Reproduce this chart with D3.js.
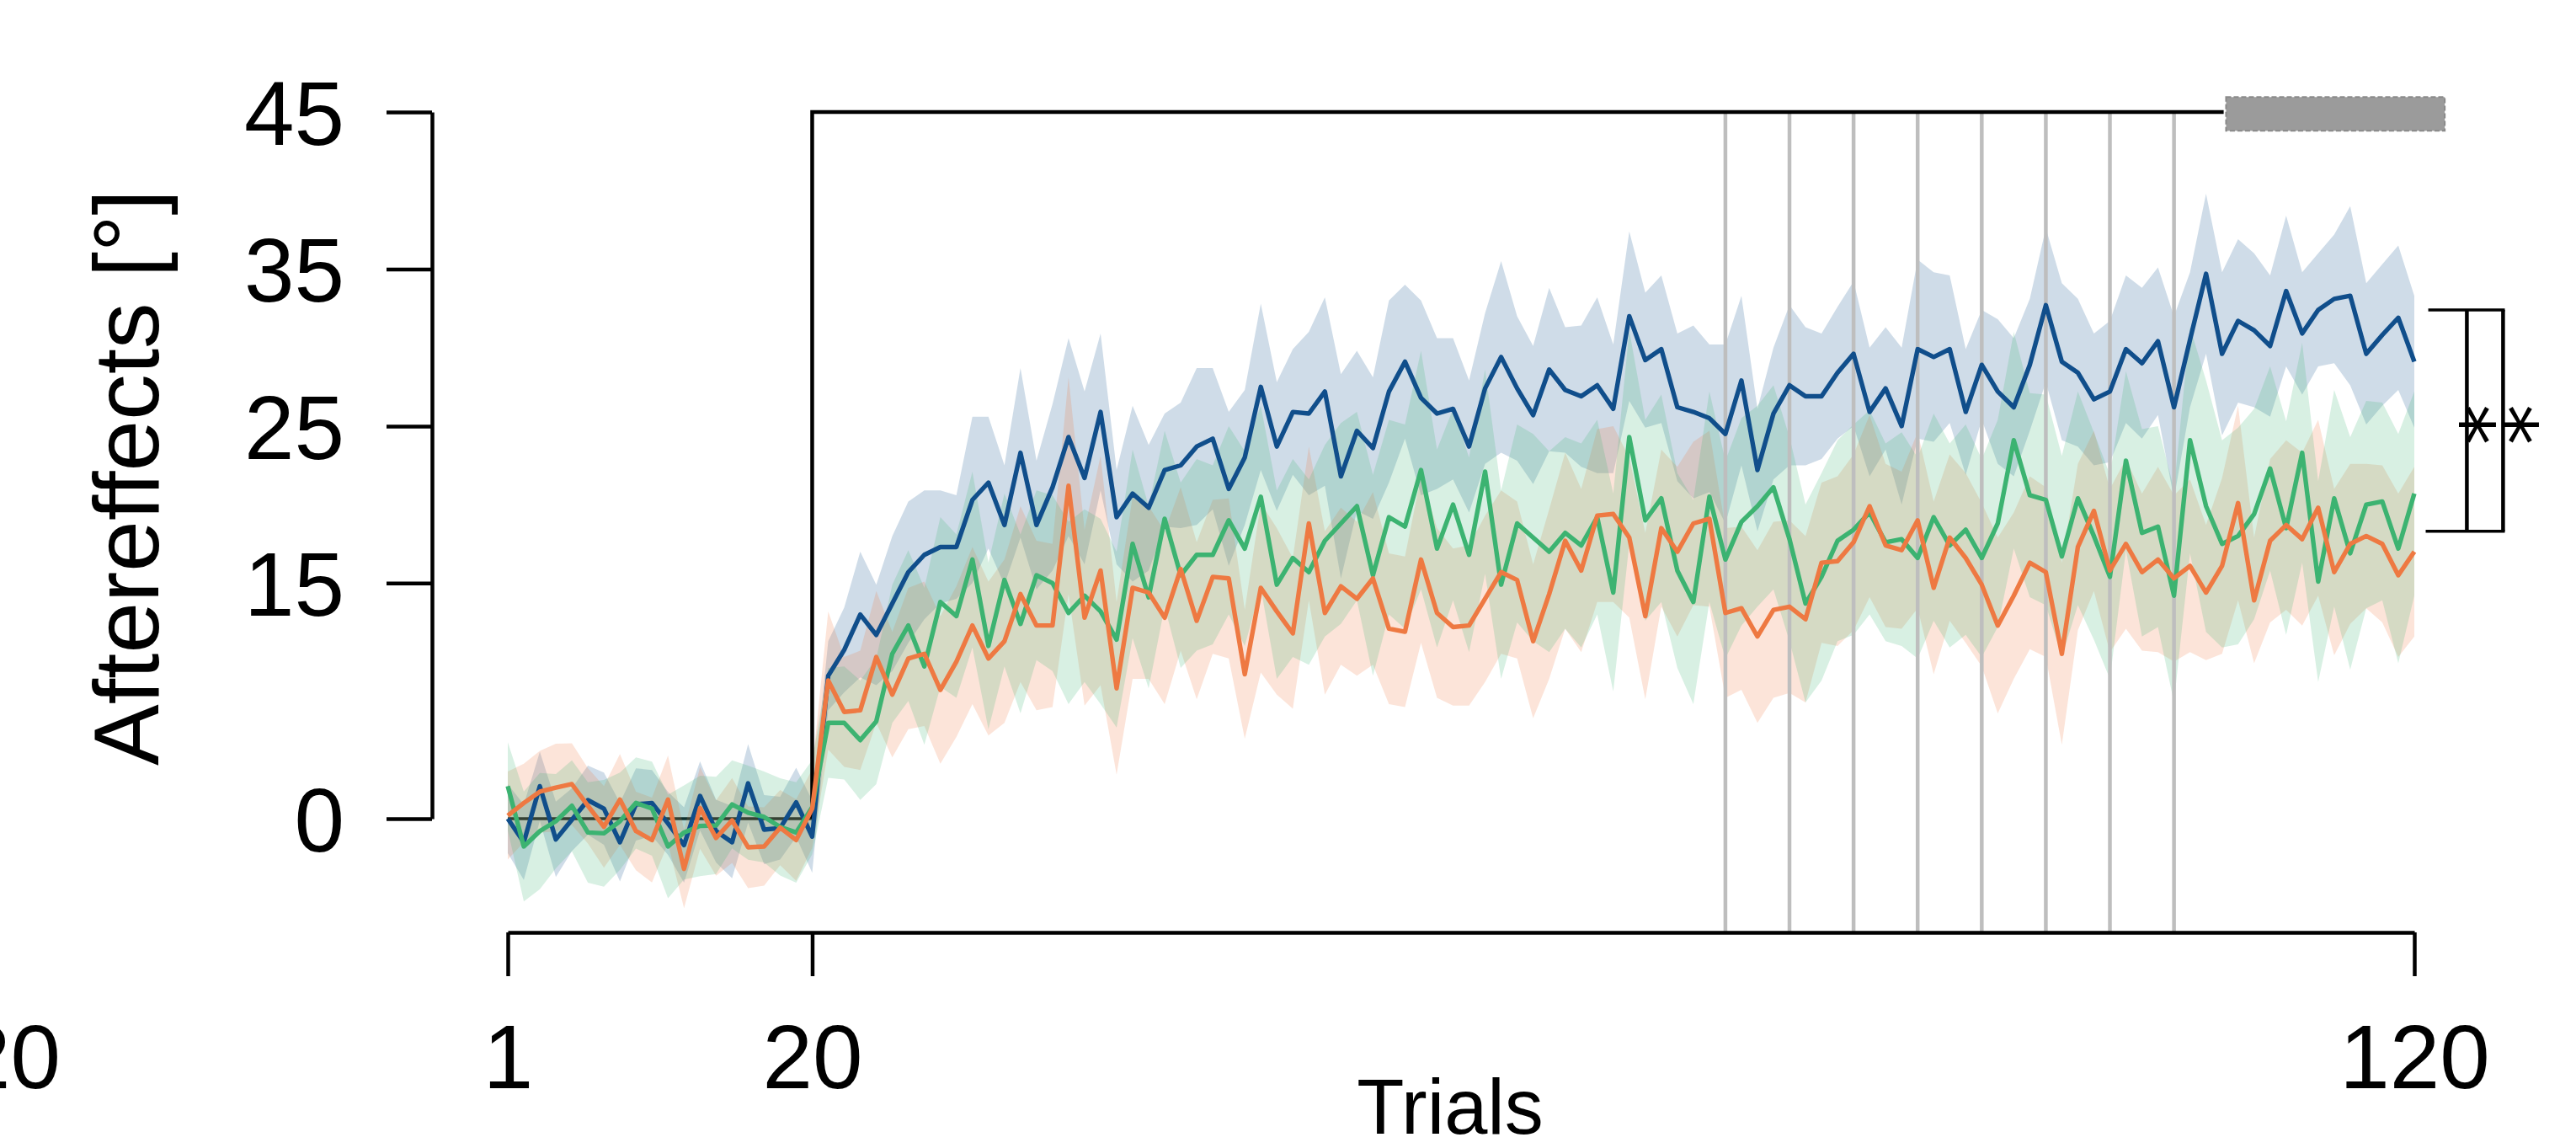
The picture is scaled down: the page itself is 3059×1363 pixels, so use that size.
<!DOCTYPE html>
<html><head><meta charset="utf-8">
<script src="https://cdn.jsdelivr.net/npm/d3@7"></script>
<style>html,body{margin:0;padding:0;background:#fff;overflow:hidden;} svg{display:block;}</style>
</head><body>
<svg id="chart" width="3059" height="1363"></svg>
<script>
// ---------- data ----------
const trials = d3.range(1, 121);

const blueMean = [
 0, -1.5, 2.07, -1.32, -0.07, 1.18, 0.64, -1.5, 0.91, 1.0, -0.3, -1.68, 1.45, -0.79, -1.5, 2.25, -0.7, -0.6, 1.04, -1.14,
 9.1, 10.75, 13.0, 11.7, 13.7, 15.7, 16.8, 17.3, 17.3, 20.3, 21.4, 18.7, 23.3, 18.7, 21.1, 24.3, 21.7, 25.9, 19.2, 20.7,
 19.8, 22.2, 22.5, 23.7, 24.2, 21.0, 23.0, 27.5, 23.7, 25.9, 25.8, 27.2, 21.8, 24.7, 23.6, 27.2, 29.1, 26.8, 25.8, 26.1,
 23.7, 27.4, 29.4, 27.4, 25.7, 28.6, 27.3, 26.9, 27.6, 26.1, 32.0, 29.2, 29.9, 26.2, 25.9, 25.5, 24.5, 27.9, 22.2, 25.8,
 27.6, 26.9, 26.9, 28.4, 29.6, 25.9, 27.4, 25.0, 29.9, 29.4, 29.9, 25.9, 28.9, 27.2, 26.2, 28.9, 32.7, 29.1, 28.4, 26.7,
 27.2, 29.9, 29.0, 30.4, 26.2, 30.5, 34.7, 29.6, 31.7, 31.1, 30.1, 33.6, 30.9, 32.4, 33.1, 33.3, 29.6, 30.8, 31.9, 29.1
];
const blueSE = [
 2.2, 2.4, 2.2, 2.4, 2.0, 2.2, 2.3, 2.5, 2.3, 2.1, 2.0, 2.4, 2.2, 2.0, 2.3, 2.5, 2.2, 2.0, 2.2, 2.3,
 2.2, 2.7, 4.0, 3.2, 4.3, 4.5, 4.1, 3.6, 3.3, 5.3, 4.2, 3.8, 5.4, 4.1, 5.3, 6.3, 5.5, 5.0, 3.0, 5.6,
 4.0, 3.6, 4.0, 5.0, 4.5, 4.9, 4.3, 5.3, 4.1, 4.0, 5.2, 6.0, 6.5, 5.1, 4.5, 5.8, 4.9, 6.2, 4.8, 4.5,
 4.2, 4.8, 6.1, 4.6, 4.4, 5.2, 4.0, 4.5, 5.6, 4.1, 5.4, 4.3, 4.7, 4.7, 5.5, 4.7, 5.7, 5.4, 3.9, 4.2,
 5.1, 4.4, 4.0, 4.2, 4.6, 4.1, 3.9, 5.0, 5.7, 5.4, 4.7, 4.0, 3.5, 4.6, 4.4, 4.2, 4.9, 5.0, 4.7, 4.2,
 4.5, 4.7, 4.8, 4.7, 5.8, 4.3, 5.1, 5.2, 5.2, 4.9, 4.5, 4.8, 3.9, 3.6, 4.1, 5.7, 4.5, 4.5, 4.6, 4.2
];

const orangeMean = [
 0.2, 1.0, 1.72, 1.98, 2.2, 0.82, -0.52, 1.22, -0.79, -1.36, 1.22, -3.2, 0.68, -1.23, -0.11, -1.82, -1.77, -0.57, -1.36, 0.64,
 8.8, 6.8, 6.9, 10.3, 7.9, 10.2, 10.5, 8.2, 10.0, 12.3, 10.2, 11.3, 14.3, 12.3, 12.3, 21.2, 12.8, 15.8, 8.3, 14.7,
 14.4, 12.8, 15.9, 12.6, 15.4, 15.3, 9.2, 14.7, 13.2, 11.8, 18.8, 13.1, 14.8, 14.0, 15.3, 12.1, 11.9, 16.5, 13.1, 12.2,
 12.3, 14.0, 15.7, 15.2, 11.3, 14.3, 17.7, 15.8, 19.3, 19.4, 17.9, 12.9, 18.5, 17.0, 18.8, 19.1, 13.1, 13.4, 11.6, 13.3,
 13.5, 12.7, 16.3, 16.4, 17.6, 19.9, 17.4, 17.1, 19.0, 14.7, 17.9, 16.6, 14.9, 12.3, 14.2, 16.3, 15.7, 10.5, 17.3, 19.6,
 15.8, 17.5, 15.7, 16.5, 15.3, 16.1, 14.4, 16.1, 20.1, 13.9, 17.7, 18.7, 17.8, 19.8, 15.7, 17.5, 18.0, 17.5, 15.5, 17.0
];
const orangeSE = [
 2.8, 2.5, 2.6, 2.8, 2.6, 2.4, 2.6, 2.9, 2.5, 2.7, 2.8, 2.5, 2.6, 2.4, 2.7, 2.6, 2.5, 2.4, 2.6, 2.5,
 4.4, 3.5, 3.8, 4.2, 4.0, 4.5, 4.6, 4.7, 4.8, 5.0, 4.9, 5.2, 5.6, 5.4, 5.2, 6.9, 5.6, 7.3, 5.5, 5.8,
 5.5, 5.5, 5.2, 5.0, 4.9, 5.1, 4.1, 5.4, 5.3, 4.8, 4.9, 5.2, 5.0, 4.9, 5.5, 4.8, 4.8, 5.3, 5.4, 5.0,
 5.1, 5.3, 5.2, 5.0, 4.9, 5.4, 5.6, 5.2, 5.5, 5.6, 5.1, 5.3, 5.0, 5.4, 5.2, 5.6, 5.4, 5.2, 5.5, 5.6,
 5.5, 5.3, 5.1, 5.4, 5.6, 5.8, 5.2, 5.0, 5.6, 5.5, 5.3, 5.4, 5.2, 5.6, 5.3, 5.5, 5.4, 5.8, 5.3, 5.1,
 5.2, 5.4, 5.0, 5.9, 5.3, 5.5, 4.3, 5.6, 6.2, 4.0, 5.2, 5.4, 5.5, 5.6, 5.3, 5.1, 4.6, 5.0, 5.2, 5.4
];

const greenMean = [
 2.07, -1.77, -0.79, -0.16, 0.82, -0.88, -0.93, -0.16, 1.0, 0.64, -1.77, -0.88, -0.46, -0.43, 0.91, 0.38, 0.11, -0.52, -0.88, 0.73,
 6.1, 6.1, 5.0, 6.2, 10.5, 12.3, 9.7, 13.8, 12.9, 16.5, 11.0, 15.2, 12.4, 15.5, 15.0, 13.1, 14.2, 13.2, 11.4, 17.5,
 14.1, 19.1, 15.5, 16.8, 16.8, 19.0, 17.2, 20.5, 14.9, 16.6, 15.7, 17.7, 18.8, 19.9, 15.5, 19.2, 18.6, 22.2, 17.2, 20.0,
 16.8, 22.1, 14.9, 18.8, 17.9, 17.0, 18.2, 17.4, 19.2, 14.4, 24.3, 19.0, 20.4, 15.8, 13.8, 20.5, 16.5, 18.9, 19.9, 21.1,
 17.8, 13.7, 15.4, 17.7, 18.4, 19.5, 17.6, 17.8, 16.6, 19.2, 17.4, 18.4, 16.6, 18.8, 24.1, 20.6, 20.3, 16.7, 20.4, 18.0,
 15.4, 22.8, 18.2, 18.6, 14.2, 24.1, 19.9, 17.5, 18.0, 19.4, 22.3, 18.5, 23.3, 15.1, 20.4, 16.9, 20.0, 20.2, 17.2, 20.7
];
const greenSE = [
 2.8, 3.5, 3.7, 3.0, 2.9, 3.2, 3.4, 3.1, 2.9, 3.0, 3.3, 3.0, 3.2, 3.1, 2.8, 3.0, 2.9, 3.1, 3.2, 3.0,
 3.5, 3.6, 3.8, 4.0, 4.4, 4.8, 5.0, 5.4, 5.2, 5.6, 5.3, 5.5, 5.7, 5.4, 5.6, 5.8, 5.5, 5.9, 5.6, 6.0,
 5.8, 5.6, 5.9, 6.1, 5.7, 6.0, 6.2, 5.8, 6.0, 6.3, 5.9, 6.1, 6.4, 6.0, 6.4, 6.2, 6.5, 7.6, 6.3, 6.1,
 6.2, 6.5, 6.0, 6.3, 6.6, 6.4, 6.1, 6.5, 6.2, 6.3, 6.8, 6.4, 6.6, 6.2, 6.5, 6.7, 6.3, 6.6, 6.4, 6.5,
 6.5, 6.3, 6.6, 6.4, 6.7, 6.5, 6.3, 6.8, 6.4, 6.6, 6.5, 6.7, 6.3, 6.6, 6.9, 6.5, 6.7, 6.4, 6.8, 6.6,
 6.5, 5.7, 6.6, 6.4, 6.8, 7.2, 8.0, 6.6, 6.9, 6.7, 6.5, 6.8, 7.0, 6.4, 6.9, 7.4, 6.6, 6.3, 7.3, 6.5
];

const yTicks = [0, 15, 25, 35, 45];
const xTicks = [1, 20, 120];
const grayLineTrials = [77, 81, 85, 89, 93, 97, 101, 105];
const bracketValues = [32.4, 18.3];
const stars = ["*", "*"];
const yLabel = "Aftereffects [°]";
const xLabel = "Trials";
const strayLabel = "20";

// ---------- layout ----------
const svg = d3.select("#chart");
const FONT = "'Liberation Sans', Arial, Helvetica, sans-serif";
const x = d3.scaleLinear().domain([1, 120]).range([603, 2867]);
const y = d3.scaleLinear().domain([0, 45]).range([972, 133]);
const yFloor = -7.24; // position of the x axis in data units

const series = [
  {name: "blue",   mean: blueMean,   se: blueSE,   color: "#104E8B"},
  {name: "orange", mean: orangeMean, se: orangeSE, color: "#EE7942"},
  {name: "green",  mean: greenMean,  se: greenSE,  color: "#3CB371"}
];

// baseline (0) line for trials 1..20 (under the bands)
svg.append("line")
  .attr("x1", x(1)).attr("x2", x(20))
  .attr("y1", y(0)).attr("y2", y(0))
  .attr("stroke", "#000").attr("stroke-width", 3.5);

// bands
const area = d3.area()
  .x((d, i) => x(trials[i]))
  .y0(d => y(d.m - d.s))
  .y1(d => y(d.m + d.s));

series.forEach(s => {
  const pts = s.mean.map((m, i) => ({m: m, s: s.se[i]}));
  svg.append("path").datum(pts)
    .attr("d", area)
    .attr("fill", s.color).attr("fill-opacity", 0.2)
    .attr("stroke", "none");
});

// gray vertical lines
svg.selectAll("line.gv").data(grayLineTrials).enter().append("line")
  .attr("class", "gv")
  .attr("x1", d => x(d)).attr("x2", d => x(d))
  .attr("y1", y(45)).attr("y2", y(yFloor))
  .attr("stroke", "#bebebe").attr("stroke-width", 4.5);

// box line: vertical at trial 20 and top line at 45
svg.append("path")
  .attr("d", `M${x(20)},${y(0)} L${x(20)},${y(45)} L${x(108.1)},${y(45)}`)
  .attr("fill", "none").attr("stroke", "#000").attr("stroke-width", 4.5);

// gray bar
svg.append("rect")
  .attr("x", x(108.25)).attr("width", x(121.9) - x(108.25))
  .attr("y", y(45.95)).attr("height", y(43.8) - y(45.95))
  .attr("fill", "#9b9b9b").attr("stroke", "#8a8a8a").attr("stroke-width", 2)
  .attr("stroke-dasharray", "6,3");

// lines
const line = d3.line().x((d, i) => x(trials[i])).y(d => y(d));
["blue", "green", "orange"].forEach(n => {
  const s = series.find(q => q.name === n);
  svg.append("path").datum(s.mean)
    .attr("d", line)
    .attr("fill", "none").attr("stroke", s.color)
    .attr("stroke-width", 5.4).attr("stroke-linejoin", "round");
});

// y axis
const yAxis = d3.axisLeft(y).tickValues(yTicks).tickSize(54).tickSizeOuter(0).tickPadding(50)
  .tickFormat(d3.format("d"));
const gy = svg.append("g").attr("transform", `translate(${x(1) - 90},0)`).call(yAxis);
gy.select(".domain").attr("stroke", "#000").attr("stroke-width", 4.5);
gy.selectAll(".tick line").attr("stroke", "#000").attr("stroke-width", 4.5);
gy.selectAll(".tick text").attr("font-family", FONT).attr("font-size", 107).attr("fill", "#000").attr("dy", "0.36em");

// x axis
const xAxis = d3.axisBottom(x).tickValues(xTicks).tickSize(52).tickSizeOuter(0).tickPadding(57)
  .tickFormat(d3.format("d"));
const gx = svg.append("g").attr("transform", `translate(0,${y(yFloor)})`).call(xAxis);
gx.select(".domain").attr("stroke", "#000").attr("stroke-width", 4.5);
gx.selectAll(".tick line").attr("stroke", "#000").attr("stroke-width", 4.5);
gx.selectAll(".tick text").attr("font-family", FONT).attr("font-size", 107).attr("fill", "#000");

// stray label at left edge (cut off in the reference as well)
svg.append("text").text(strayLabel)
  .attr("x", 72).attr("y", 1292).attr("text-anchor", "end")
  .attr("font-family", FONT).attr("font-size", 107).attr("fill", "#000");

// axis titles
svg.append("text").text(yLabel)
  .attr("transform", `translate(188,567) rotate(-90)`)
  .attr("text-anchor", "middle")
  .attr("font-family", FONT).attr("font-size", 109).attr("fill", "#000");
svg.append("text").text(xLabel)
  .attr("x", 1722).attr("y", 1346).attr("text-anchor", "middle")
  .attr("font-family", FONT).attr("font-size", 92).attr("fill", "#000");

// significance bracket
const [bt, bb] = bracketValues;
svg.append("path")
  .attr("d", `M${x(120.87)},${y(bt)} L${x(125.65)},${y(bt)} M${x(120.71)},${y(bb)} L${x(125.65)},${y(bb)}`)
  .attr("fill", "none").attr("stroke", "#000").attr("stroke-width", 3.5);
svg.append("path")
  .attr("d", `M${x(123.28)},${y(bt)} L${x(123.28)},${y(bb)} M${x(125.54)},${y(bt)} L${x(125.54)},${y(bb)}`)
  .attr("fill", "none").attr("stroke", "#000").attr("stroke-width", 4.5);
const starX = [2950, 3001];
const midY = y((bt + bb) / 2) + 5;
svg.selectAll("text.star").data(stars).enter().append("text")
  .attr("class", "star")
  .attr("transform", (d, i) => `translate(${starX[i]},${midY}) rotate(90)`)
  .attr("text-anchor", "middle").attr("dy", "0.6em")
  .attr("font-family", "'DejaVu Sans', sans-serif").attr("font-size", 96).attr("fill", "#000")
  .text(d => d);
</script>
</body></html>
